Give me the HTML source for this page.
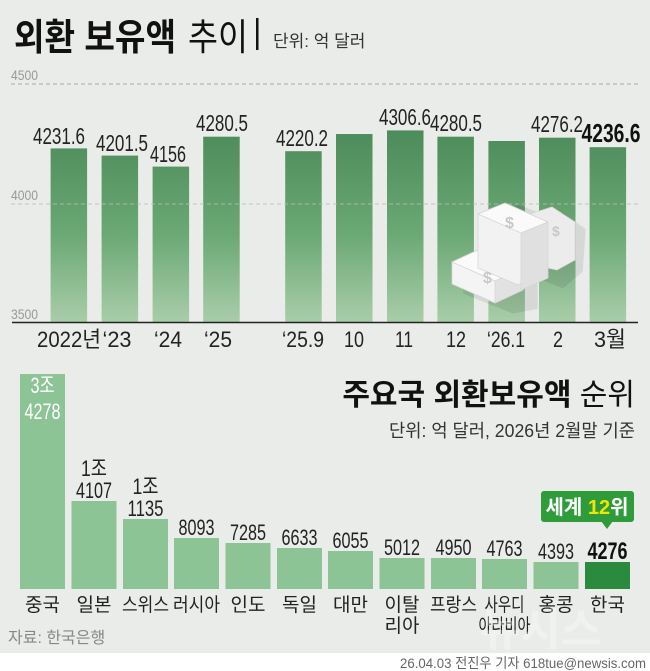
<!DOCTYPE html>
<html><head><meta charset="utf-8"><style>
html,body{margin:0;padding:0;background:#e9ece8;}
svg{display:block;font-family:"Liberation Sans","Noto Sans CJK KR",sans-serif;}
</style></head><body>
<svg width="650" height="671" viewBox="0 0 650 671" xmlns="http://www.w3.org/2000/svg">
<defs>
<linearGradient id="g" gradientUnits="userSpaceOnUse" x1="0" y1="125" x2="0" y2="322">
<stop offset="0" stop-color="#4b8a59"/><stop offset="0.55" stop-color="#6aa874"/><stop offset="1" stop-color="#a9cda9"/>
</linearGradient>
</defs>
<rect width="650" height="671" fill="#e9ece8"/>
<text x="14" y="50" font-size="37" font-weight="bold" fill="#111" textLength="162" lengthAdjust="spacingAndGlyphs">외환 보유액</text>
<text x="188" y="50" font-size="37" fill="#111" textLength="60" lengthAdjust="spacingAndGlyphs">추이</text>
<rect x="256" y="18" width="2.5" height="32" fill="#111"/>
<text x="273" y="47" font-size="17" fill="#333">단위: 억 달러</text>
<text x="11" y="80" font-size="14" fill="#999" textLength="27" lengthAdjust="spacingAndGlyphs">4500</text>
<line x1="11" y1="84" x2="640" y2="84" stroke="#aaa" stroke-dasharray="4,3"/>
<text x="11" y="200" font-size="14" fill="#999" textLength="27" lengthAdjust="spacingAndGlyphs">4000</text>
<text x="11" y="319" font-size="14" fill="#999" textLength="27" lengthAdjust="spacingAndGlyphs">3500</text>
<g fill="url(#g)">
<rect x="50.6" y="148.4" width="36.5" height="174"/>
<rect x="101.6" y="155.6" width="36.5" height="167"/>
<rect x="152.6" y="166.6" width="36.5" height="156"/>
<rect x="203.2" y="136.7" width="36.5" height="186"/>
<rect x="285.2" y="151.2" width="36.5" height="171"/>
<rect x="336" y="134" width="36.5" height="189"/>
<rect x="387" y="130.4" width="36.5" height="192"/>
<rect x="437.4" y="136.7" width="36.5" height="186"/>
<rect x="488.4" y="141" width="36.5" height="182"/>
<rect x="539" y="137.7" width="36.5" height="185"/>
<rect x="589.6" y="147.2" width="36.5" height="176"/>
</g>
<line x1="11" y1="204" x2="640" y2="204" stroke="#bbb" stroke-dasharray="4,3" opacity="0.8"/>
<g stroke="#d6d6d6" stroke-width="0.8">
<polygon points="478,214 510,200 540,212 555,208 578,225 575,268 555,285 530,275 530,305 505,310 455,290 452,263 478,250" fill="#000" opacity="0.08" transform="translate(8,4)"/>
<polygon points="452,262 480,249 523,268 523,290 495,303 452,284" fill="#f4f4f4"/>
<polygon points="452,262 480,249 523,268 495,281" fill="#fafafa"/>
<polygon points="495,281 523,268 523,290 495,303" fill="#e2e2e2"/>
<polygon points="478,214 505,203 530,214 530,278 518,285 478,268" fill="#f2f2f2"/>
<polygon points="478,214 505,203 548,222 521,233" fill="#fafafa"/>
<polygon points="521,233 548,222 548,278 521,290" fill="#e0e0e0"/>
<polygon points="530,214 552,207 575,222 575,260 557,270 548,268 548,222" fill="#ececec"/>
</g>
<text x="505" y="228" font-size="16" fill="#c8c8c8" font-weight="bold">$</text>
<text x="483" y="283" font-size="16" fill="#c8c8c8" font-weight="bold">$</text>
<text x="552" y="236" font-size="14" fill="#c8c8c8" font-weight="bold">$</text>
<line x1="12" y1="322.5" x2="638" y2="322.5" stroke="#222" stroke-width="1.5"/>
<g font-size="23" fill="#222" text-anchor="middle">
<text x="59" y="144" textLength="52" lengthAdjust="spacingAndGlyphs">4231.6</text>
<text x="122" y="151" textLength="52" lengthAdjust="spacingAndGlyphs">4201.5</text>
<text x="168" y="162" textLength="36" lengthAdjust="spacingAndGlyphs">4156</text>
<text x="222" y="131" textLength="52" lengthAdjust="spacingAndGlyphs">4280.5</text>
<text x="302" y="146" textLength="52" lengthAdjust="spacingAndGlyphs">4220.2</text>
<text x="405" y="125" textLength="52" lengthAdjust="spacingAndGlyphs">4306.6</text>
<text x="456" y="131" textLength="52" lengthAdjust="spacingAndGlyphs">4280.5</text>
<text x="557" y="132" textLength="52" lengthAdjust="spacingAndGlyphs">4276.2</text>
<text x="611" y="142" font-weight="bold" font-size="26" fill="#111" textLength="59" lengthAdjust="spacingAndGlyphs">4236.6</text>
</g>
<g font-size="22" fill="#222" text-anchor="middle">
<text x="69" y="347" textLength="64" lengthAdjust="spacingAndGlyphs">2022년</text>
<text x="117" y="347" textLength="29" lengthAdjust="spacingAndGlyphs">‘23</text>
<text x="168" y="347" textLength="28" lengthAdjust="spacingAndGlyphs">‘24</text>
<text x="218" y="347" textLength="28" lengthAdjust="spacingAndGlyphs">‘25</text>
<text x="303" y="347" textLength="42" lengthAdjust="spacingAndGlyphs">‘25.9</text>
<text x="354" y="347" textLength="20" lengthAdjust="spacingAndGlyphs">10</text>
<text x="404" y="347" textLength="18" lengthAdjust="spacingAndGlyphs">11</text>
<text x="456" y="347" textLength="20" lengthAdjust="spacingAndGlyphs">12</text>
<text x="506" y="347" textLength="38" lengthAdjust="spacingAndGlyphs">‘26.1</text>
<text x="558" y="347" textLength="10" lengthAdjust="spacingAndGlyphs">2</text>
<text x="610" y="347" textLength="32" lengthAdjust="spacingAndGlyphs">3월</text>
</g>
<text x="635" y="405" text-anchor="end" font-size="30" fill="#111"><tspan font-weight="bold">주요국 외환보유액</tspan> 순위</text>
<text x="635" y="437" text-anchor="end" font-size="18" fill="#333" textLength="246" lengthAdjust="spacingAndGlyphs">단위: 억 달러, 2026년 2월말 기준</text>
<g fill="#8cc496">
<rect x="20" y="374" width="45" height="215"/>
<rect x="71.5" y="501" width="45" height="88"/>
<rect x="123" y="519" width="45" height="70"/>
<rect x="174" y="538" width="45" height="51"/>
<rect x="225.5" y="543" width="45" height="46"/>
<rect x="277" y="548" width="45" height="41"/>
<rect x="328" y="551" width="45" height="38"/>
<rect x="379.5" y="558" width="45" height="31"/>
<rect x="431" y="558" width="45" height="31"/>
<rect x="482" y="559" width="45" height="30"/>
<rect x="533.5" y="562" width="45" height="27"/>
</g>
<rect x="585" y="562" width="45" height="27" fill="#2a8a3e"/>
<g font-size="22" fill="#222" text-anchor="middle">
<text x="42.5" y="393" fill="#fff" textLength="24" lengthAdjust="spacingAndGlyphs">3조</text>
<text x="42.5" y="419" fill="#fff" textLength="36" lengthAdjust="spacingAndGlyphs">4278</text>
<text x="94" y="476" textLength="26" lengthAdjust="spacingAndGlyphs">1조</text>
<text x="94" y="498" textLength="36" lengthAdjust="spacingAndGlyphs">4107</text>
<text x="145.5" y="494" textLength="26" lengthAdjust="spacingAndGlyphs">1조</text>
<text x="145.5" y="516" textLength="36" lengthAdjust="spacingAndGlyphs">1135</text>
<text x="196.5" y="535" textLength="36" lengthAdjust="spacingAndGlyphs">8093</text>
<text x="248" y="540" textLength="36" lengthAdjust="spacingAndGlyphs">7285</text>
<text x="299.5" y="545" textLength="36" lengthAdjust="spacingAndGlyphs">6633</text>
<text x="350.5" y="548" textLength="36" lengthAdjust="spacingAndGlyphs">6055</text>
<text x="402" y="555" textLength="36" lengthAdjust="spacingAndGlyphs">5012</text>
<text x="453.5" y="555" textLength="36" lengthAdjust="spacingAndGlyphs">4950</text>
<text x="504.5" y="556" textLength="36" lengthAdjust="spacingAndGlyphs">4763</text>
<text x="556" y="559" textLength="36" lengthAdjust="spacingAndGlyphs">4393</text>
<text x="607.5" y="559" font-weight="bold" font-size="24" fill="#111" textLength="40" lengthAdjust="spacingAndGlyphs">4276</text>
</g>
<g font-size="19" fill="#222" text-anchor="middle">
<text x="42.5" y="611">중국</text>
<text x="94" y="611">일본</text>
<text x="145.5" y="611" textLength="47" lengthAdjust="spacingAndGlyphs">스위스</text>
<text x="196.5" y="611" textLength="47" lengthAdjust="spacingAndGlyphs">러시아</text>
<text x="248" y="611">인도</text>
<text x="299.5" y="611">독일</text>
<text x="350.5" y="611">대만</text>
<text x="402" y="611">이탈</text>
<text x="402" y="632">리아</text>
<text x="453.5" y="611" textLength="47" lengthAdjust="spacingAndGlyphs">프랑스</text>
<text x="504.5" y="611" textLength="40" lengthAdjust="spacingAndGlyphs">사우디</text>
<text x="504.5" y="632" textLength="52" lengthAdjust="spacingAndGlyphs">아라비아</text>
<text x="556" y="611">홍콩</text>
<text x="607.5" y="611">한국</text>
</g>
<rect x="541" y="491" width="93" height="31" rx="3" fill="#2e9c3a"/>
<polygon points="601,521 613,521 607,529" fill="#2e9c3a"/>
<text x="587" y="514" text-anchor="middle" font-size="20" font-weight="bold" fill="#fff">세계 <tspan fill="#f2e600">12</tspan>위</text>
<text x="480" y="645" font-size="44" font-weight="bold" fill="#fff" opacity="0.35">뉴시스</text>
<text x="8" y="643" font-size="16" fill="#888">자료: 한국은행</text>
<rect x="0" y="653" width="650" height="18" fill="#fff"/>
<text x="646" y="668" text-anchor="end" font-size="14" fill="#666" textLength="246" lengthAdjust="spacingAndGlyphs">26.04.03 전진우 기자 618tue@newsis.com</text>
</svg>
</body></html>
